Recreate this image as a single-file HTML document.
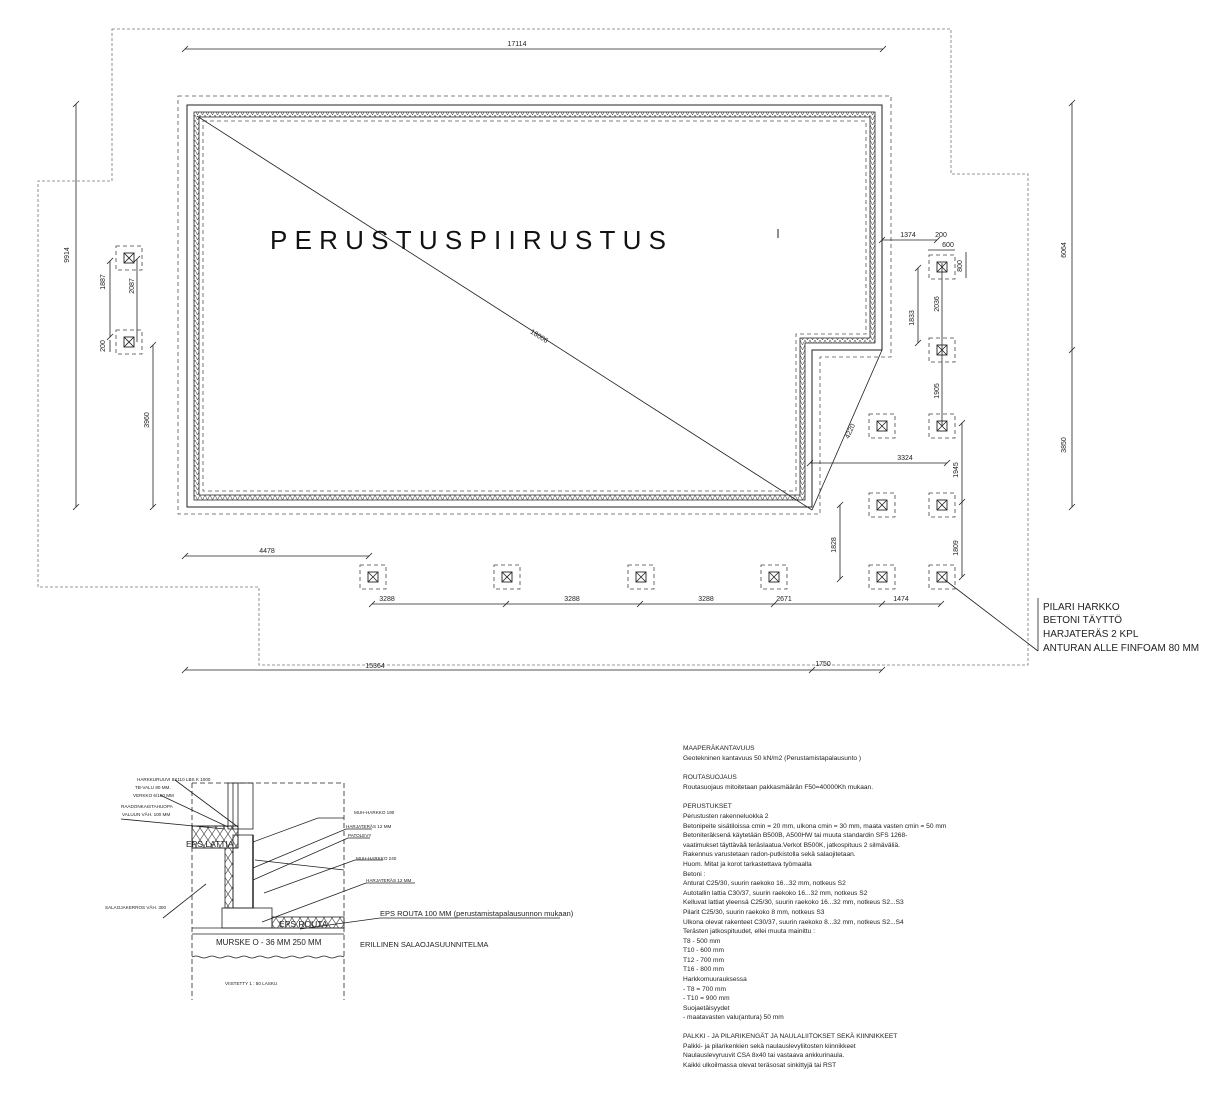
<!DOCTYPE html>
<html><head><meta charset="utf-8"><style>
html,body{margin:0;padding:0;background:#fff;}
svg{display:block;}
text{font-family:"Liberation Sans",sans-serif;fill:#222;}
</style></head><body>
<svg width="1206" height="1100" viewBox="0 0 1206 1100" xmlns="http://www.w3.org/2000/svg">
<defs>
<pattern id="zz" width="5" height="5" patternUnits="userSpaceOnUse"><path d="M0,0 L2.5,5 L5,0" fill="none" stroke="#555" stroke-width="0.6"/></pattern>
<pattern id="xx" width="16" height="12" patternUnits="userSpaceOnUse"><path d="M0,0 L8,12 L16,0 M0,12 L8,0 L16,12" fill="none" stroke="#333" stroke-width="0.6"/></pattern>
<g id="pier"><rect x="-13" y="-12" width="26" height="24" fill="none" stroke="#444" stroke-width="0.8" stroke-dasharray="4,3"/><rect x="-5" y="-5" width="10" height="10" fill="none" stroke="#222" stroke-width="0.9"/><path d="M-5,-5 L5,5 M5,-5 L-5,5" stroke="#222" stroke-width="0.8"/></g>
</defs>
<g fill="none" stroke="#555" stroke-width="0.8">
<path d="M112,29 L951,29 L951,174 L1028,174 L1028,665 L259,665 L259,587 L38,587 L38,181 L112,181 Z" stroke-dasharray="3,2" stroke="#777"/>
<path d="M178,96 L891,96 L891,357 L820,357 L820,514 L178,514 Z" stroke-dasharray="4,3"/>
<path d="M187,105 L882,105 L882,350 L812,350 L812,507 L187,507 Z" stroke="#222" stroke-width="1"/>
<path d="M196.5,114.5 L872.5,114.5 L872.5,340.5 L802.5,340.5 L802.5,497.5 L196.5,497.5 Z" stroke="url(#zz)" stroke-width="5"/>
<path d="M194,112 L875,112 L875,343 L805,343 L805,500 L194,500 Z" stroke="#222"/>
<path d="M199,117 L870,117 L870,338 L800,338 L800,495 L199,495 Z" stroke="#222"/>
<path d="M203,121 L866,121 L866,334 L796,334 L796,491 L203,491 Z" stroke-dasharray="4,3"/>
</g>
<g stroke="#222" stroke-width="0.8" fill="none">
<line x1="197" y1="116" x2="812" y2="510"/>
<line x1="812" y1="510" x2="882" y2="350"/>
<line x1="185" y1="49" x2="883" y2="49"/>
<line x1="76" y1="104" x2="76" y2="507"/>
<line x1="110" y1="261" x2="110" y2="337"/>
<line x1="137" y1="259" x2="137" y2="342"/>
<line x1="110" y1="340" x2="110" y2="352"/>
<line x1="153" y1="345" x2="153" y2="507"/>
<line x1="185" y1="556" x2="369" y2="556"/>
<line x1="372" y1="604" x2="941" y2="604"/>
<line x1="185" y1="670" x2="882" y2="670"/>
<line x1="882" y1="240" x2="937" y2="240"/>
<line x1="928" y1="250" x2="955" y2="250"/>
<line x1="966" y1="252" x2="966" y2="278"/>
<line x1="918" y1="268" x2="918" y2="343"/>
<line x1="942" y1="263" x2="942" y2="426"/>
<line x1="810" y1="463" x2="947" y2="463"/>
<line x1="962" y1="423" x2="962" y2="577"/>
<line x1="840" y1="505" x2="840" y2="579"/>
<line x1="1072" y1="103" x2="1072" y2="507"/>
<line x1="945" y1="580" x2="1038" y2="651"/>
<line x1="1038" y1="598" x2="1038" y2="651"/>
<path d="M182,52 l6,-6 M880,52 l6,-6 M73,107 l6,-6 M73,510 l6,-6 M107,264 l6,-6 M107,340 l6,-6 M134,262 l6,-6 M150,348 l6,-6 M150,510 l6,-6 M182,559 l6,-6 M366,559 l6,-6 M369,607 l6,-6 M503,607 l6,-6 M637,607 l6,-6 M771,607 l6,-6 M879,607 l6,-6 M938,607 l6,-6 M182,673 l6,-6 M809,673 l6,-6 M879,673 l6,-6 M879,243 l6,-6 M934,243 l6,-6 M915,271 l6,-6 M915,346 l6,-6 M807,466 l6,-6 M944,466 l6,-6 M959,426 l6,-6 M959,505 l6,-6 M959,580 l6,-6 M837,508 l6,-6 M837,582 l6,-6 M1069,106 l6,-6 M1069,353 l6,-6 M1069,510 l6,-6"/>
</g>
<g>
<use href="#pier" x="129" y="258"/><use href="#pier" x="129" y="342"/>
<use href="#pier" x="373" y="577"/><use href="#pier" x="507" y="577"/><use href="#pier" x="641" y="577"/><use href="#pier" x="774" y="577"/><use href="#pier" x="882" y="577"/><use href="#pier" x="942" y="577"/>
<use href="#pier" x="942" y="267"/><use href="#pier" x="942" y="350"/><use href="#pier" x="882" y="426"/><use href="#pier" x="942" y="426"/><use href="#pier" x="882" y="505"/><use href="#pier" x="942" y="505"/>
</g>
<text x="270" y="249" font-size="26" textLength="396" lengthAdjust="spacing" style="fill:#111">PERUSTUSPIIRUSTUS</text>
<line x1="778" y1="229" x2="778" y2="238" stroke="#222"/>
<g font-size="7" text-anchor="middle">
<text x="517" y="46">17114</text>
<text x="267" y="553">4478</text>
<text x="387" y="601">3288</text><text x="572" y="601">3288</text><text x="706" y="601">3288</text><text x="784" y="601">2671</text><text x="901" y="601">1474</text>
<text x="375" y="668">15364</text><text x="823" y="666">1750</text>
<text x="908" y="237">1374</text><text x="941" y="237">200</text><text x="948" y="247">600</text>
<text x="905" y="460">3324</text>
<text transform="translate(69,255) rotate(-90)">9914</text>
<text transform="translate(105,282) rotate(-90)">1887</text>
<text transform="translate(134,286) rotate(-90)">2087</text>
<text transform="translate(105,346) rotate(-90)">200</text>
<text transform="translate(149,420) rotate(-90)">3960</text>
<text transform="translate(962,266) rotate(-90)">800</text>
<text transform="translate(914,318) rotate(-90)">1833</text>
<text transform="translate(939,304) rotate(-90)">2036</text>
<text transform="translate(939,391) rotate(-90)">1905</text>
<text transform="translate(958,470) rotate(-90)">1945</text>
<text transform="translate(958,548) rotate(-90)">1809</text>
<text transform="translate(836,545) rotate(-90)">1828</text>
<text transform="translate(1066,250) rotate(-90)">6064</text>
<text transform="translate(1066,445) rotate(-90)">3850</text>
<text transform="translate(538,338) rotate(32.6)">18006</text>
<text transform="translate(852,432) rotate(-66)">4220</text>
</g>
<g font-size="10">
<text x="1043" y="610">PILARI HARKKO</text>
<text x="1043" y="623">BETONI TÄYTTÖ</text>
<text x="1043" y="637">HARJATERÄS 2 KPL</text>
<text x="1043" y="651">ANTURAN ALLE FINFOAM 80 MM</text>
</g>
<g fill="none" stroke="#222" stroke-width="0.8">
<path d="M192,783 L344,783 M192,783 L192,1000 M344,783 L344,1000" stroke-dasharray="5,3"/>
<rect x="228" y="783" width="25" height="46"/>
<line x1="233" y1="783" x2="233" y2="829"/><line x1="238" y1="783" x2="238" y2="829"/>
<rect x="192" y="826" width="46" height="22" fill="url(#xx)"/>
<rect x="192" y="826" width="46" height="22"/>
<rect x="233" y="835" width="20" height="73"/>
<rect x="225" y="848" width="8" height="60" fill="url(#xx)"/>
<line x1="253" y1="835" x2="253" y2="908" stroke-width="1.5"/>
<rect x="222" y="908" width="50" height="20"/>
<rect x="272" y="917" width="72" height="11" fill="url(#xx)"/>
<line x1="192" y1="928" x2="344" y2="928"/>
<line x1="192" y1="934" x2="344" y2="934"/>
<path d="M192,957 q4,-2 8,0 t8,0 t8,0 t8,0 t8,0 t8,0 t8,0 t8,0 t8,0 t8,0 t8,0 t8,0 t8,0 t8,0 t8,0 t8,0 t8,0 t8,0 t8,0"/>
<path d="M253,842 L318,818 L344,818 M253,868 L346,829 L372,829 M253,880 L348,838 L370,838 M255,860 L344,870 M264,893 L355,860 L383,860 M262,922 L366,883 L415,883 M300,929 L380,918 L560,918 M175,780 L238,827 M160,795 L228,827 M121,819 L225,829 M163,918 L206,884"/>
</g>
<g font-size="4.6">
<text x="137" y="781">HARKKURUUVI 8X110 LBS K 1000</text>
<text x="135" y="789">TB-VALU 80 MM.</text>
<text x="133" y="797">VERKKO 6/150 MM</text>
<text x="121" y="808">RAADONKAISTAHUOPA</text>
<text x="122" y="816">VALUUN VÄH. 100 MM</text>
<text x="105" y="909">SALAOJAKERROS VÄH. 300</text>
<text x="354" y="814">MUH-HARKKO 190</text>
<text x="346" y="828">HARJATERÄS 12 MM</text>
<text x="348" y="837">PATOLEVY</text>
<text x="356" y="860">MUH-HARKKO 240</text>
<text x="366" y="882">HARJATERÄS 12 MM</text>
<text x="225" y="985">VIISTETTY 1 : 50 LASKU</text>
</g>
<text x="186" y="847" font-size="8.5">EPS LATTIA</text>
<text x="279" y="927" font-size="8.5">EPS ROUTA</text>
<text x="216" y="945" font-size="8">MURSKE  O - 36 MM 250 MM</text>
<text x="360" y="947" font-size="7.5">ERILLINEN SALAOJASUUNNITELMA</text>
<text x="380" y="916" font-size="7.5">EPS ROUTA 100 MM (perustamistapalausunnon mukaan)</text>
<g font-size="6.6">
<text x="683" y="750">MAAPERÄKANTAVUUS</text>
<text x="683" y="760">Geotekninen kantavuus  50 kN/m2 (Perustamistapalausunto )</text>
<text x="683" y="779">ROUTASUOJAUS</text>
<text x="683" y="789">Routasuojaus mitoitetaan pakkasmäärän F50=40000Kh mukaan.</text>
<text x="683" y="808">PERUSTUKSET</text>
<text x="683" y="818">Perustusten rakenneluokka 2</text>
<text x="683" y="828">Betonipeite sisätiloissa cmin = 20 mm, ulkona cmin = 30 mm, maata vasten cmin = 50 mm</text>
<text x="683" y="837">Betoniteräksenä käytetään B500B, A500HW tai muuta standardin SFS 1268-</text>
<text x="683" y="847">vaatimukset täyttävää teräslaatua.Verkot B500K, jatkospituus 2 silmäväliä.</text>
<text x="683" y="856">Rakennus varustetaan radon-putkistolla sekä salaojitetaan.</text>
<text x="683" y="866">Huom. Mitat ja korot tarkastettava työmaalla</text>
<text x="683" y="876">Betoni :</text>
<text x="683" y="885">Anturat C25/30, suurin raekoko 16...32 mm, notkeus S2</text>
<text x="683" y="895">Autotallin lattia C30/37, suurin raekoko 16...32 mm, notkeus S2</text>
<text x="683" y="904">Kelluvat lattiat yleensä C25/30, suurin raekoko 16...32 mm, notkeus S2...S3</text>
<text x="683" y="914">Pilarit C25/30, suurin raekoko 8 mm, notkeus S3</text>
<text x="683" y="924">Ulkona olevat rakenteet C30/37, suurin raekoko 8...32 mm, notkeus S2...S4</text>
<text x="683" y="933">Terästen jatkospituudet, ellei muuta mainittu :</text>
<text x="683" y="943">T8 - 500 mm</text>
<text x="683" y="952">T10 - 600 mm</text>
<text x="683" y="962">T12 - 700 mm</text>
<text x="683" y="971">T16 - 800 mm</text>
<text x="683" y="981">Harkkomuurauksessa</text>
<text x="683" y="991">- T8 = 700 mm</text>
<text x="683" y="1000">- T10 = 900 mm</text>
<text x="683" y="1010">Suojaetäisyydet</text>
<text x="683" y="1019">- maatavasten valu(antura) 50 mm</text>
<text x="683" y="1038">PALKKI - JA PILARIKENGÄT JA NAULALIITOKSET SEKÄ KIINNIKKEET</text>
<text x="683" y="1048">Palkki- ja pilarikenkien sekä naulauslevyliitosten kiinnikkeet</text>
<text x="683" y="1057">Naulauslevyruuvit CSA 8x40 tai vastaava ankkurinaula.</text>
<text x="683" y="1067">Kaikki ulkoilmassa olevat teräsosat sinkittyjä tai RST</text>
</g>
</svg>
</body></html>
